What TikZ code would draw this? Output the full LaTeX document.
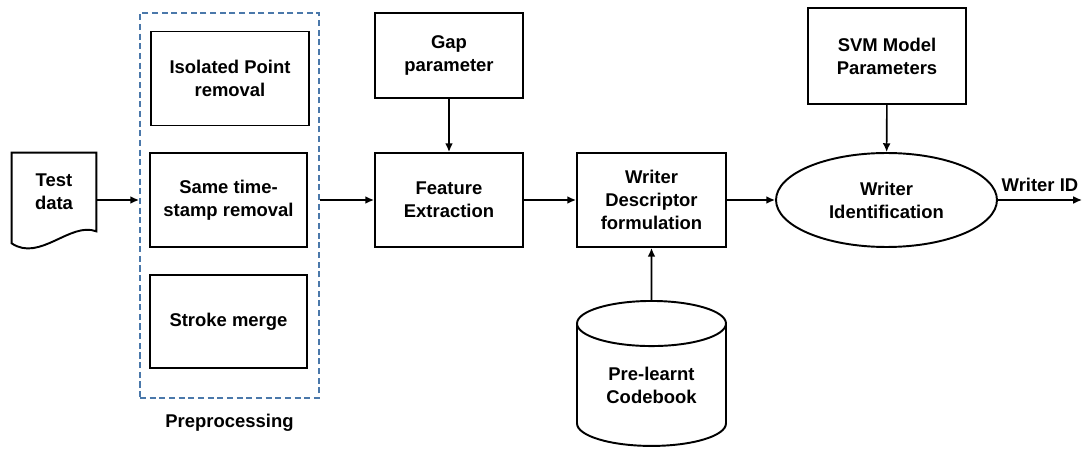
\documentclass[tikz,border=0pt]{standalone}
\usepackage{fontspec}
\setmainfont{Liberation Sans}
\usetikzlibrary{positioning,shapes.geometric,arrows.meta}
\definecolor{prepblue}{HTML}{4A78AA}
\tikzset{
  blk/.style   ={rectangle, draw=black, line width=1.1pt, fill=white,
                 align=center, font=\fontsize{10.5}{13}\selectfont\bfseries,
                 minimum width=3.16cm, minimum height=1.88cm, inner sep=2pt},
  ell/.style   ={ellipse, draw=black, line width=1.1pt, align=center,
                 font=\fontsize{10.5}{13}\selectfont\bfseries,
                 minimum width=4.42cm, minimum height=1.88cm, inner sep=0pt},
  db/.style    ={cylinder, shape border rotate=90, aspect=0.5, draw=black,
                 line width=1.1pt, align=center,
                 font=\fontsize{10.5}{13}\selectfont\bfseries,
                 minimum width=2.98cm, minimum height=2.9cm, inner sep=0pt},
  grp/.style   ={rectangle, draw=prepblue, line width=1.1pt,
                 dash pattern=on 3.5pt off 2pt},
  lbl/.style   ={font=\fontsize{10.5}{13}\selectfont\bfseries, align=center, inner sep=1pt},
  fl/.style    ={-{Latex[length=5pt,width=4.5pt]}, line width=0.9pt}
}
\begin{document}
\begin{tikzpicture}[x=0.02cm, y=-0.02cm]
  \useasboundingbox (0,0) rectangle (1086,449);
  % input document
  \node[lbl,minimum width=1.68cm,minimum height=1.56cm] (test) at (54,192) {Test\\data};
  \draw[line width=1.1pt] (test.south west) -- (test.north west) -- (test.north east) -- (test.south east)
    .. controls +(-0.52cm,0.2cm) and +(0.56cm,-0.38cm) .. ([yshift=-0.24cm]test.south west) -- cycle;

  % preprocessing group
  \node[grp,minimum width=3.58cm,minimum height=7.7cm] (pre) at (229.5,205.5) {};
  \node[blk] (iso) at (230,78.5) {Isolated Point\\removal};
  \node[blk,minimum width=3.14cm] (same) at (228.5,200) {Same time-\\stamp removal};
  \node[blk,minimum width=3.14cm,minimum height=1.86cm] (strk) at (228.5,321.5) {Stroke merge};
  \node[lbl,below=0.26cm of pre] (prelbl) {Preprocessing};

  \node[blk,minimum width=2.96cm] (feat) at (449,200) {Feature\\Extraction};
  \node[blk,minimum width=2.96cm,minimum height=1.7cm] (gap) at (449,55.5) {Gap\\parameter};
  \node[blk,minimum width=2.98cm] (wd) at (651.5,200) {Writer\\Descriptor\\formulation};
  \node[db,anchor=north] (cb) at (651.5,300) {Pre-learnt\\Codebook};
  \node[ell] (wid) at (886.5,200) {Writer\\Identification};
  \node[blk,minimum height=1.92cm] (svm) at (887,56) {SVM Model\\Parameters};
  \coordinate (out) at (1082,200);

  \draw[fl] (test.east |- same) -- (pre.west |- same);
  \draw[fl] (pre.east |- same) -- (feat);
  \draw[fl] (gap) -- (feat);
  \draw[fl] (feat) -- (wd);
  \draw[fl] (cb.top) -- (wd);
  \draw[fl] (wd) -- (wid);
  \draw[fl] (svm) -- (wid);
  \draw[fl] (wid) -- node[lbl,above=3pt,pos=0.5] {Writer ID} (out);
\end{tikzpicture}
\end{document}
